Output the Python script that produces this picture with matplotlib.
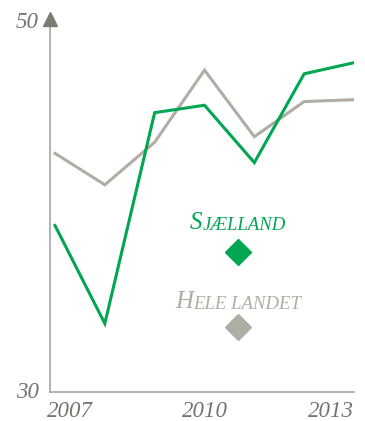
import matplotlib
matplotlib.use("Agg")
import matplotlib.pyplot as plt
import matplotlib.transforms as mtransforms

# Series
years = [2007, 2008, 2009, 2010, 2011, 2012, 2013]
sjaelland = [39.0, 33.7, 45.1, 45.5, 42.4, 47.2, 47.8]
hele_landet = [42.9, 41.2, 43.5, 47.4, 43.8, 45.7, 45.8]

x_ticks = [2007, 2010, 2013]
x_ticklabels = ["2007", "2010", "2013"]
y_ticks = [30, 50]
y_ticklabels = ["30", "50"]

GREEN = "#00a651"
GREY = "#b0ada4"
AXIS = "#a6a6a2"
TEXT = "#75756d"
SERIF = ["Liberation Serif", "DejaVu Serif"]

fig = plt.figure(figsize=(3.65, 4.21), dpi=100)
ax = fig.add_axes([50 / 365, 1 - 392 / 421, 304 / 365, 370 / 421])

ax.plot(years, hele_landet, color=GREY, lw=2.2, solid_joinstyle="miter", zorder=2)
ax.plot(years, sjaelland, color=GREEN, lw=2.2, solid_joinstyle="miter", zorder=3)

ax.set_xlim(2007 - 5 / 49.83, 2013)
ax.set_ylim(30, 50)

for side in ("top", "right"):
    ax.spines[side].set_visible(False)
ax.spines["left"].set_color(AXIS)
ax.spines["bottom"].set_color(AXIS)
ax.spines["left"].set_linewidth(1.2)
ax.spines["bottom"].set_linewidth(1.2)

# Arrow head on the y axis
ax.plot([0], [1.008], marker="^", markersize=10, color="#7b7c74",
        transform=ax.transAxes, clip_on=False, zorder=5)

ax.set_xticks(x_ticks)
ax.set_xticklabels(x_ticklabels, fontsize=16.5, fontstyle="italic",
                   family=SERIF, color=TEXT)
ax.set_yticks(y_ticks)
ax.set_yticklabels(y_ticklabels, fontsize=16.5, fontstyle="italic",
                   family=SERIF, color=TEXT)
ax.tick_params(length=0)
ax.tick_params(axis="x", pad=6.5)
ax.tick_params(axis="y", pad=8)

xl = ax.get_xticklabels()
for lab, ha in zip(xl, ["left", "center", "right"]):
    lab.set_horizontalalignment(ha)
left_shift = mtransforms.ScaledTranslation(-6 / 72, 0, fig.dpi_scale_trans)
xl[0].set_transform(xl[0].get_transform() + left_shift)

# Lift the y labels a little above their tick positions
yl = ax.get_yticklabels()
for lab, dy_px in zip(yl, [2, 1.5]):
    lab.set_transform(lab.get_transform() +
                      mtransforms.ScaledTranslation(0, dy_px / 100, fig.dpi_scale_trans))


def small_caps(x, y, first, rest, color):
    """Draw a label in small caps centred at x (axes coordinates)."""
    t1 = ax.text(0, 0, first, fontsize=18, fontstyle="italic", family=SERIF,
                 color=color, transform=ax.transAxes, ha="left", va="baseline")
    t2 = ax.annotate(rest, xy=(1, 0), xycoords=t1, fontsize=13.5,
                     fontstyle="italic", family=SERIF, color=color,
                     ha="left", va="bottom")
    fig.canvas.draw()
    r = fig.canvas.get_renderer()
    w1 = t1.get_window_extent(r).width
    w2 = t2.get_window_extent(r).width
    total = (w1 + w2) / ax.get_window_extent(r).width
    t1.set_position((x - total / 2, y))
    return t1, t2


# Series labels with diamond keys
small_caps(0.618, 0.44, "S", "JÆLLAND", GREEN)
ax.plot([0.618], [0.378], marker="D", markersize=13, color=GREEN,
        transform=ax.transAxes, clip_on=False)

small_caps(0.618, 0.227, "H", "ELE LANDET", GREY)
ax.plot([0.618], [0.176], marker="D", markersize=13, color=GREY,
        transform=ax.transAxes, clip_on=False)

fig.savefig("out.png", dpi=100)
